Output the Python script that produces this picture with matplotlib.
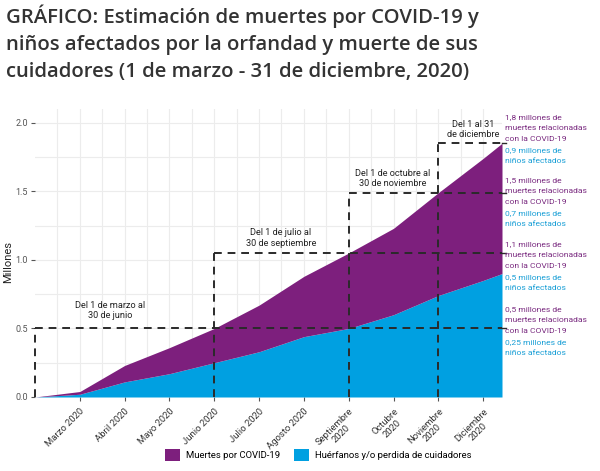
import matplotlib
matplotlib.use("Agg")
import matplotlib.pyplot as plt
from matplotlib.patches import Patch

# ---- data ----
month_labels = ["Marzo 2020", "Abril 2020", "Mayo 2020", "Junio 2020", "Julio 2020",
                "Agosto 2020", "Septiembre\n2020", "Octubre\n2020", "Noviembre\n2020",
                "Diciembre\n2020"]
x_pos = [0, 1, 2, 3, 4, 5, 6, 7, 8, 9, 10, 10.42]
deaths = [0, 0.04, 0.23, 0.36, 0.50, 0.67, 0.88, 1.05, 1.23, 1.49, 1.74, 1.85]
orphans = [0, 0.02, 0.11, 0.17, 0.25, 0.33, 0.44, 0.50, 0.60, 0.74, 0.85, 0.90]

period_start = [0, 4, 7, 9]
period_end_level = [0.50, 1.05, 1.49, 1.85]
period_labels = ["Del 1 de marzo al\n30 de junio", "Del 1 de julio al\n30 de septiembre",
                 "Del 1 de octubre al\n30 de noviembre", "Del 1 al 31\nde diciembre"]
period_label_x = [1.67, 5.49, 7.99, 9.78]
period_label_y = [0.63, 1.16, 1.595, 1.95]

deaths_txt = [["1,8 millones de", "muertes relacionadas", "con la COVID-19"],
              ["1,5 millones de", "muertes relacionadas", "con la COVID-19"],
              ["1,1 millones de", "muertes relacionadas", "con la COVID-19"],
              ["0,5 millones de", "muertes relacionadas", "con la COVID-19"]]
kids_txt = [["0,9 millones de", "niños afectados"], ["0,7 millones de", "niños afectados"],
            ["0,5 millones de", "niños afectados"], ["0,25 millones de", "niños afectados"]]

PURPLE = "#7d1f7d"
BLUE = "#00a0e1"
TXT_PURPLE = "#7a2b80"
TXT_BLUE = "#1a9fd6"

plt.rcParams['font.family'] = ['Roboto', 'DejaVu Sans']

fig = plt.figure(figsize=(6.0, 4.71), dpi=100)
ax = fig.add_axes([35/600, 74/471, 467/600, 288/471])

xmax = x_pos[-1]
ax.fill_between(x_pos, 0, orphans, color=BLUE, lw=0, zorder=2)
ax.fill_between(x_pos, orphans, deaths, color=PURPLE, lw=0, zorder=2)

ax.set_xlim(0, xmax)
ax.set_ylim(0, 2.1)

# grid
ax.set_xticks(range(1, 11))
ax.set_xticks([i + 0.5 for i in range(0, 10)], minor=True)
ax.set_yticks([0, 0.5, 1.0, 1.5, 2.0])
ax.set_yticks([0.25, 0.75, 1.25, 1.75], minor=True)
ax.grid(True, which='both', color='#ececec', lw=0.8, zorder=0)
ax.set_axisbelow(True)
for s in ax.spines.values():
    s.set_visible(False)

ax.set_yticklabels(["0.0", "0.5", "1.0", "1.5", "2.0"], fontsize=6.5, color='#555555')
ax.set_xticklabels(month_labels, fontsize=6.8, color='#333333', rotation=45,
                   ha='right', va='top', rotation_mode='anchor', multialignment='center',
                   linespacing=1.1)
ax.tick_params(axis='both', which='major', length=3, color='#555555', width=0.8, pad=2)
ax.tick_params(axis='both', which='minor', length=0)
ax.tick_params(axis='x', pad=4)
ax.set_ylabel("Millones", fontsize=8, color='#222222')
ax.yaxis.set_label_coords(-22/467, 0.47)

# dashed period boxes
dash = dict(color='#2a2a2a', lw=1.4, ls=(0, (4, 3)), zorder=4, clip_on=False)
for xs, lvl in zip(period_start, period_end_level):
    ax.plot([xs, xs], [0, lvl], **dash)
    ax.plot([xs, xmax], [lvl, lvl], **dash)
    ax.plot([xmax, xmax + 0.08], [lvl, lvl], color='#2a2a2a', lw=1.0, clip_on=False)

for lx, ly, t in zip(period_label_x, period_label_y, period_labels):
    ax.text(lx, ly, t, ha='center', va='center', fontsize=6.6, color='#222222',
            linespacing=1.2, zorder=5)

# right-side annotations (one line at a time, ~11 px apart)
tops = [117, 180, 244, 309]
step = 10.9
for top, dl, kl in zip(tops, deaths_txt, kids_txt):
    lines = [(t, TXT_PURPLE) for t in dl] + [(t, TXT_BLUE) for t in kl]
    for i, (t, c) in enumerate(lines):
        fig.text(505/600, 1 - (top + i * step)/471, t, ha='left', va='center',
                 fontsize=6.1, color=c)

# title
fig.text(6/600, 1 - 4/471,
         "GRÁFICO: Estimación de muertes por COVID-19 y\n"
         "niños afectados por la orfandad y muerte de sus\n"
         "cuidadores (1 de marzo - 31 de diciembre, 2020)",
         ha='left', va='top', fontsize=14.6, color='#333333', fontweight='semibold',
         linespacing=1.5, family=['Open Sans', 'DejaVu Sans'])

# legend
handles = [Patch(facecolor=PURPLE, label="Muertes por COVID-19"),
           Patch(facecolor=BLUE, label="Huérfanos y/o perdida de cuidadores")]
fig.legend(handles=handles, loc='center', bbox_to_anchor=(318/600, 16/471), ncol=2,
           frameon=False, fontsize=6.8, handlelength=1.6, handleheight=1.6,
           columnspacing=1.5, handletextpad=0.6)

fig.savefig("out.png", dpi=100)
